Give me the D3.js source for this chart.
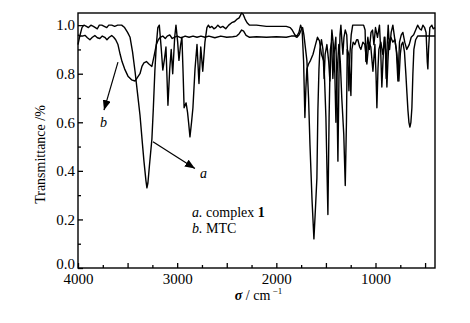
<body style="margin:0;background:#fff"></body>

<script type='text/javascript' src='https://d3js.org/d3.v7.min.js'></script>
<script>
    var width = 470, height = 323;

    // complex 1 (curve a)
    var waveA = [4000, 3985, 3960, 3940, 3915, 3895, 3870, 3845, 3825, 3805, 3785, 3760, 3735, 3710, 3690, 3660, 3630, 3600, 3560, 3530,
        3500, 3475, 3450, 3425, 3400, 3375, 3350, 3335, 3315, 3305, 3295, 3280, 3255, 3240, 3225, 3210, 3195, 3180, 3160, 3145,
        3128, 3113, 3093, 3075, 3060, 3045, 3025, 3012, 2995, 2982, 2965, 2952, 2940, 2930, 2910, 2895, 2885, 2871, 2855, 2841,
        2820, 2800, 2780, 2762, 2742, 2720, 2700, 2685, 2670, 2650, 2630, 2610, 2590, 2565, 2540, 2510, 2480, 2450, 2420, 2395,
        2375, 2350, 2335, 2315, 2295, 2270, 2200, 2100, 2000, 1900, 1860, 1840, 1813, 1792, 1772, 1755, 1740, 1725, 1712, 1702,
        1692, 1675, 1655, 1630, 1605, 1585, 1565, 1545, 1520, 1500, 1480, 1468, 1455, 1442, 1430, 1418, 1400, 1390, 1379, 1368,
        1358, 1349, 1338, 1329, 1318, 1305, 1290, 1278, 1268, 1258, 1245, 1230, 1200, 1160, 1120, 1105, 1097, 1085, 1077, 1062,
        1045, 1030, 1016, 1000, 980, 960, 948, 936, 925, 912, 900, 892, 882, 872, 858, 842, 825, 808, 790, 774,
        758, 740, 724, 705, 685, 660, 640, 615, 595, 575, 555, 538, 522, 505, 490, 478, 472, 465, 452, 432, 418, 400];
    var transA = [0.92, 0.95, 0.99, 1.0, 0.995, 0.99, 1.0, 0.995, 0.99, 0.985, 1.0, 1.0, 0.995, 0.99, 1.0, 1.0, 0.995, 1.0, 1.0, 0.99,
        0.97, 0.95, 0.89, 0.81, 0.72, 0.63, 0.51, 0.44, 0.36, 0.33, 0.35, 0.42, 0.53, 0.66, 0.81, 0.92, 0.99, 1.0, 0.9, 0.815,
        0.86, 0.91, 0.67, 0.82, 0.9, 0.8, 0.95, 1.0, 0.93, 0.855, 0.92, 0.95, 0.8, 0.66, 0.68, 0.64, 0.6, 0.54, 0.6, 0.66,
        0.82, 0.92, 0.76, 0.91, 0.81, 0.93, 0.99, 1.0, 0.99, 0.995, 0.985, 0.99, 1.0, 0.99, 0.995, 0.985, 1.0, 1.01, 1.015, 1.025,
        1.03, 1.05, 1.045, 1.025, 1.01, 1.0, 1.0, 0.995, 0.995, 0.995, 0.99, 0.98, 0.96, 0.955, 0.97, 1.0, 0.98, 0.85, 0.62, 0.74,
        0.82, 0.84, 0.855, 0.88, 0.92, 0.95, 0.935, 0.88, 0.85, 0.62, 0.22, 0.62, 0.9, 0.93, 0.78, 0.88, 0.95, 0.75, 0.44, 0.8,
        0.96, 1.0, 0.93, 0.88, 0.95, 0.98, 0.96, 0.85, 0.73, 0.88, 0.96, 1.0, 1.0, 1.0, 1.0, 0.98, 0.85, 0.92, 0.95, 0.9,
        0.97, 0.98, 0.92, 0.99, 0.95, 1.0, 0.9, 0.745, 0.85, 0.95, 0.9, 0.78, 0.92, 1.0, 0.9, 0.97, 1.0, 0.95, 0.9, 0.77,
        0.93, 0.96, 0.97, 0.93, 0.9, 0.92, 0.95, 0.96, 0.98, 1.0, 0.985, 0.98, 1.0, 0.99, 0.97, 0.85, 0.82, 0.9, 0.99, 1.0, 0.985, 0.99];

    // MTC (curve b)
    var waveB = [4000, 3980, 3955, 3930, 3905, 3880, 3855, 3830, 3805, 3780, 3755, 3730, 3708, 3685, 3660, 3640, 3620, 3597, 3575, 3556,
        3530, 3496, 3460, 3425, 3400, 3375, 3355, 3335, 3310, 3285, 3255, 3234, 3210, 3190, 3170, 3145, 3120, 3100, 3075, 3050,
        3030, 3000, 2960, 2920, 2880, 2840, 2800, 2760, 2720, 2680, 2620, 2560, 2500, 2440, 2400, 2375, 2350, 2330, 2305, 2270,
        2200, 2100, 2000, 1900, 1850, 1813, 1792, 1770, 1750, 1735, 1722, 1705, 1692, 1675, 1661, 1640, 1621, 1605, 1591, 1581,
        1570, 1561, 1545, 1530, 1518, 1508, 1490, 1472, 1460, 1450, 1440, 1425, 1410, 1399, 1388, 1370, 1355, 1340, 1320, 1305,
        1293, 1285, 1270, 1258, 1248, 1238, 1225, 1208, 1190, 1178, 1160, 1147, 1127, 1107, 1087, 1067, 1047, 1026, 1006, 995,
        986, 975, 966, 946, 926, 905, 895, 885, 875, 865, 845, 825, 805, 784, 764, 750, 738, 724, 708, 694,
        683, 673, 663, 653, 643, 633, 623, 613, 595, 575, 540, 500, 460, 400];
    var transB = [0.96, 0.955, 0.955, 0.958, 0.948, 0.94, 0.95, 0.957, 0.948, 0.945, 0.955, 0.95, 0.94, 0.95, 0.957, 0.95, 0.94, 0.92, 0.88, 0.85,
        0.82, 0.79, 0.775, 0.77, 0.785, 0.8, 0.83, 0.845, 0.85, 0.84, 0.83, 0.87, 0.92, 0.94, 0.95, 0.955, 0.945, 0.955, 0.96, 0.945,
        0.95, 0.955, 0.948, 0.955, 0.95, 0.955, 0.95, 0.955, 0.95, 0.955, 0.948, 0.955, 0.95, 0.952, 0.955, 0.965, 0.98, 0.975, 0.958, 0.95,
        0.952, 0.95, 0.952, 0.95, 0.955, 0.955, 0.95, 0.96, 0.98, 0.99, 0.96, 0.9, 0.855, 0.7, 0.51, 0.28, 0.12, 0.25, 0.37, 0.65,
        0.82, 0.9, 0.94, 0.9, 0.78, 0.88, 0.92, 0.85, 0.77, 0.88, 0.98, 0.92, 0.8, 0.6, 0.8, 0.92, 0.85, 0.7, 0.55, 0.34,
        0.6, 0.9, 0.88, 0.8, 0.71, 0.9, 0.93, 0.92, 0.94, 0.94, 0.91, 0.9, 0.93, 0.92, 0.84, 0.93, 0.91, 0.81, 0.92, 0.8,
        0.66, 0.82, 0.9, 0.93, 0.88, 0.95, 0.86, 0.745, 0.85, 0.93, 0.95, 0.93, 0.94, 0.88, 0.77, 0.88, 0.92, 0.93, 0.89, 0.8,
        0.72, 0.65, 0.6, 0.58, 0.6, 0.66, 0.8, 0.9, 0.94, 0.955, 0.955, 0.955, 0.955, 0.955];

    var xMajorTicks = [4000, 3500, 3000, 2500, 2000, 1500, 1000, 500];
    var xMinorTicks = [3750, 3250, 2750, 2250, 1750, 1250, 750];
    var xTickLabels = [4000, 3000, 2000, 1000];
    var yMajorTicks = [0, 0.2, 0.4, 0.6, 0.8, 1.0];
    var yMinorTicks = [0.1, 0.3, 0.5, 0.7, 0.9];

    var mLeft = 78, mRight = 435, mTop = 13, mBottom = 268;
    var font = "'Liberation Serif', 'Times New Roman', serif";

    var svg = d3.select('body').append('svg').attr('width', width).attr('height', height)
        .style('font-family', font);

    var x = d3.scaleLinear().domain([4000, 400]).range([mLeft, mRight]);
    var y = d3.scaleLinear().domain([0, 1.05]).range([mBottom, mTop]);

    // arrowhead
    svg.append('defs').append('marker')
        .attr('id', 'head').attr('markerUnits', 'userSpaceOnUse')
        .attr('viewBox', '0 0 10 8').attr('refX', 10).attr('refY', 4)
        .attr('markerWidth', 10).attr('markerHeight', 8).attr('orient', 'auto')
        .append('path').attr('d', 'M0,0 L10,4 L0,8 Z').attr('fill', '#000');

    // spectra
    var line = d3.line().x(function (d) { return x(d[0]); }).y(function (d) { return y(d[1]); });
    [[waveA, transA], [waveB, transB]].forEach(function (s) {
        svg.append('path')
            .datum(d3.zip(s[0], s[1]))
            .attr('d', line)
            .attr('fill', 'none').attr('stroke', '#000').attr('stroke-width', 1.4)
            .attr('stroke-linejoin', 'round');
    });

    // axes (ticks point inward)
    var gx = svg.append('g').attr('transform', 'translate(0,' + mBottom + ')');
    gx.call(d3.axisBottom(x).tickValues(xMajorTicks).tickSize(-5).tickPadding(5)
        .tickFormat(function (d) { return xTickLabels.indexOf(d) >= 0 ? d : ''; }));
    gx.append('g').call(d3.axisBottom(x).tickValues(xMinorTicks).tickSize(-3).tickFormat(''));

    var gy = svg.append('g').attr('transform', 'translate(' + mLeft + ',0)');
    gy.call(d3.axisLeft(y).tickValues(yMajorTicks).tickSize(-5).tickPadding(3).tickFormat(d3.format('.1f')));
    gy.append('g').call(d3.axisLeft(y).tickValues(yMinorTicks).tickSize(-3).tickFormat(''));
    // the 0.0 label sits a little above its tick, clear of the x labels
    gy.selectAll('.tick text').filter(function (d) { return d === 0; }).attr('dy', '0.05em');

    svg.selectAll('.domain').remove();
    svg.selectAll('.tick line').attr('stroke', '#000').attr('stroke-width', 1.3);
    svg.selectAll('.tick text').attr('fill', '#000').style('font-size', '15px').style('font-family', font);

    // frame
    svg.append('rect').attr('x', mLeft).attr('y', mTop).attr('width', mRight - mLeft).attr('height', mBottom - mTop)
        .attr('fill', 'none').attr('stroke', '#000').attr('stroke-width', 1.4);

    // axis titles
    svg.append('text').attr('transform', 'translate(45,' + ((mTop + mBottom) / 2 + 14) + ') rotate(-90)')
        .attr('text-anchor', 'middle').style('font-size', '14px').text('Transmittance /%');

    var xt = svg.append('text').attr('x', (mLeft + mRight) / 2 + 2).attr('y', 300)
        .attr('text-anchor', 'middle').style('font-size', '14px');
    xt.append('tspan').style('font-weight', 'bold').style('font-style', 'italic').text('σ');
    xt.append('tspan').text(' / cm');
    xt.append('tspan').attr('dy', -6).style('font-size', '9px').text(' −1');

    // legend
    var legend = svg.append('g').style('font-size', '14px');
    var l1 = legend.append('text').attr('x', x(2850)).attr('y', y(0.21));
    l1.append('tspan').style('font-style', 'italic').text('a.');
    l1.append('tspan').text(' complex ');
    l1.append('tspan').style('font-weight', 'bold').text('1');
    var l2 = legend.append('text').attr('x', x(2850)).attr('y', y(0.144));
    l2.append('tspan').style('font-style', 'italic').text('b.');
    l2.append('tspan').text(' MTC');

    // annotation arrows
    var arrows = [
        { name: 'a', from: [3244, 0.52], to: [2821, 0.41], label: [2770, 0.37] },
        { name: 'b', from: [3597, 0.848], to: [3738, 0.65], label: [3778, 0.58] }
    ];
    arrows.forEach(function (d) {
        svg.append('line')
            .attr('x1', x(d.from[0])).attr('y1', y(d.from[1]))
            .attr('x2', x(d.to[0])).attr('y2', y(d.to[1]))
            .attr('stroke', '#000').attr('stroke-width', 1.2).attr('marker-end', 'url(#head)');
        svg.append('text').attr('x', x(d.label[0])).attr('y', y(d.label[1]))
            .style('font-size', '14px').style('font-style', 'italic').text(d.name);
    });
</script>
